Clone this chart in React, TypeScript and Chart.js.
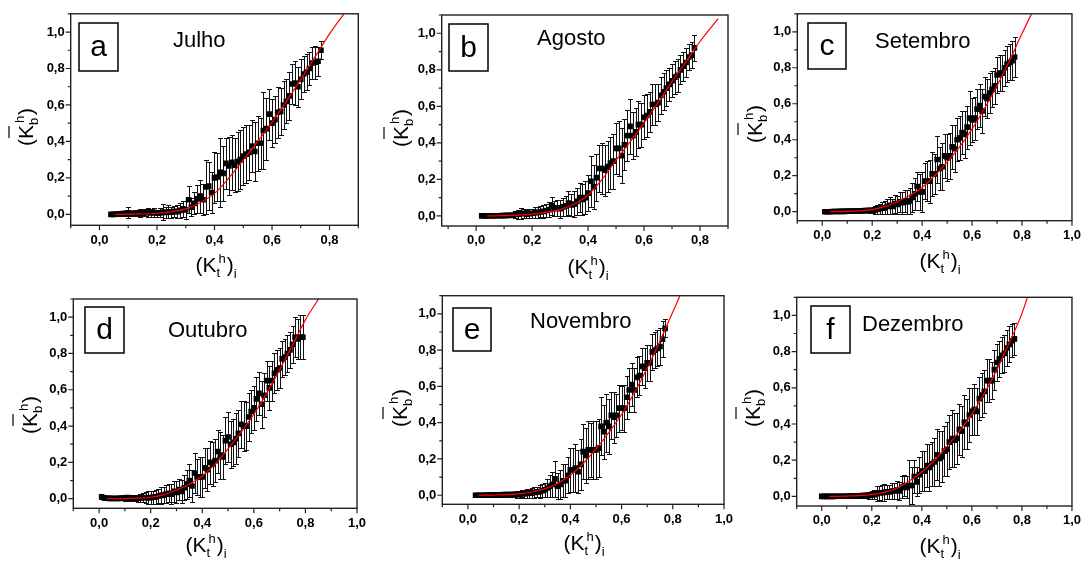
import { useEffect, useRef } from "react";
import { Chart, registerables } from "chart.js";
Chart.register(...registerables);

const W = 1088;
const H = 563;
const FONT = '"Liberation Sans", Arial, Helvetica, sans-serif';
const YW = 40;
const XH = 30;

// ---------------- Julho (a) ----------------
const julhoX = [0.04, 0.05, 0.06, 0.07, 0.08, 0.09,
  0.10, 0.11, 0.12, 0.13, 0.14, 0.15, 0.16, 0.17, 0.18, 0.19,
  0.20, 0.21, 0.22, 0.23, 0.24, 0.25, 0.26, 0.27, 0.28, 0.29,
  0.30, 0.31, 0.32, 0.33, 0.34, 0.35, 0.36, 0.37, 0.38, 0.39,
  0.40, 0.41, 0.42, 0.43, 0.44, 0.45, 0.46, 0.47, 0.48, 0.49,
  0.50, 0.51, 0.52, 0.53, 0.54, 0.55, 0.56, 0.57, 0.58, 0.59,
  0.60, 0.61, 0.62, 0.63, 0.64, 0.65, 0.66, 0.67, 0.68, 0.69,
  0.70, 0.71, 0.72, 0.73, 0.74, 0.75, 0.76, 0.77];
const julhoY = [0.000, 0.000, 0.002, 0.003, 0.004, 0.005,
  0.008, 0.006, 0.005, 0.007, 0.008, 0.006, 0.009, 0.010, 0.008, 0.010,
  0.006, 0.008, 0.012, 0.010, 0.014, 0.012, 0.016, 0.015, 0.022, 0.030,
  0.025, 0.080, 0.040, 0.060, 0.085, 0.100, 0.080, 0.150, 0.155, 0.120,
  0.200, 0.205, 0.230, 0.225, 0.280, 0.265, 0.285, 0.270, 0.290, 0.300,
  0.320, 0.330, 0.340, 0.375, 0.345, 0.390, 0.390, 0.460, 0.470, 0.550,
  0.500, 0.520, 0.560, 0.565, 0.600, 0.620, 0.650, 0.715, 0.720, 0.700,
  0.740, 0.770, 0.780, 0.800, 0.830, 0.835, 0.840, 0.900];
const julhoErr = [0.005, 0.006, 0.008, 0.010, 0.012, 0.015,
  0.030, 0.015, 0.012, 0.018, 0.020, 0.015, 0.020, 0.025, 0.020, 0.025,
  0.020, 0.025, 0.045, 0.030, 0.035, 0.030, 0.030, 0.035, 0.040, 0.045,
  0.050, 0.075, 0.050, 0.060, 0.075, 0.090, 0.085, 0.150, 0.130, 0.110,
  0.140, 0.130, 0.190, 0.150, 0.140, 0.160, 0.150, 0.150, 0.160, 0.160,
  0.160, 0.160, 0.150, 0.140, 0.160, 0.150, 0.140, 0.210, 0.170, 0.140,
  0.130, 0.130, 0.140, 0.130, 0.130, 0.120, 0.130, 0.110, 0.120, 0.110,
  0.110, 0.100, 0.100, 0.090, 0.090, 0.090, 0.080, 0.050];
const julhoFitX = [0.055, 0.10, 0.15, 0.20, 0.25, 0.30, 0.35, 0.40, 0.45, 0.50, 0.55, 0.60, 0.65, 0.70, 0.75, 0.80, 0.85];
const julhoFitY = [0.000, 0.001, 0.002, 0.006, 0.014, 0.030, 0.064, 0.115, 0.200, 0.298, 0.400, 0.505, 0.620, 0.740, 0.865, 0.990, 1.100];

// ---------------- Agosto (b) ----------------
const agostoX = [0.02, 0.03, 0.04, 0.05, 0.06, 0.07, 0.08, 0.09,
  0.10, 0.11, 0.12, 0.13, 0.14, 0.15, 0.16, 0.17, 0.18, 0.19,
  0.20, 0.21, 0.22, 0.23, 0.24, 0.25, 0.26, 0.27, 0.28, 0.29,
  0.30, 0.31, 0.32, 0.33, 0.34, 0.35, 0.36, 0.37, 0.38, 0.39,
  0.40, 0.41, 0.42, 0.43, 0.44, 0.45, 0.46, 0.47, 0.48, 0.49,
  0.50, 0.51, 0.52, 0.53, 0.54, 0.55, 0.56, 0.57, 0.58, 0.59,
  0.60, 0.61, 0.62, 0.63, 0.64, 0.65, 0.66, 0.67, 0.68, 0.69,
  0.70, 0.71, 0.72, 0.73, 0.74, 0.75, 0.76, 0.77, 0.78];
const agostoY = [0.000, 0.000, 0.000, 0.001, 0.000, 0.001, 0.001, 0.002,
  0.002, 0.003, 0.003, 0.004, 0.008, 0.010, 0.012, 0.015, 0.010, 0.012,
  0.015, 0.018, 0.020, 0.022, 0.025, 0.030, 0.035, 0.055, 0.040, 0.045,
  0.040, 0.050, 0.055, 0.070, 0.060, 0.065, 0.080, 0.100, 0.090, 0.100,
  0.125, 0.190, 0.160, 0.210, 0.260, 0.260, 0.250, 0.270, 0.290, 0.300,
  0.370, 0.370, 0.330, 0.390, 0.440, 0.490, 0.440, 0.460, 0.500, 0.500,
  0.540, 0.550, 0.570, 0.610, 0.610, 0.620, 0.660, 0.680, 0.700, 0.720,
  0.740, 0.760, 0.770, 0.800, 0.820, 0.840, 0.870, 0.880, 0.920];
const agostoErr = [0.005, 0.005, 0.005, 0.006, 0.006, 0.007, 0.008, 0.008,
  0.010, 0.010, 0.010, 0.012, 0.020, 0.025, 0.030, 0.025, 0.020, 0.025,
  0.025, 0.030, 0.030, 0.030, 0.035, 0.035, 0.040, 0.050, 0.040, 0.045,
  0.050, 0.050, 0.055, 0.065, 0.060, 0.070, 0.075, 0.080, 0.085, 0.090,
  0.100, 0.140, 0.120, 0.130, 0.130, 0.140, 0.140, 0.140, 0.140, 0.150,
  0.140, 0.150, 0.150, 0.140, 0.140, 0.150, 0.130, 0.130, 0.130, 0.120,
  0.120, 0.120, 0.110, 0.110, 0.110, 0.100, 0.100, 0.100, 0.100, 0.090,
  0.090, 0.090, 0.090, 0.080, 0.080, 0.080, 0.070, 0.070, 0.070];
const agostoFitX = [0.04, 0.10, 0.15, 0.20, 0.25, 0.30, 0.35, 0.40, 0.45, 0.50, 0.55, 0.60, 0.65, 0.70, 0.75, 0.80, 0.865];
const agostoFitY = [0.000, 0.002, 0.005, 0.010, 0.020, 0.035, 0.065, 0.115, 0.200, 0.305, 0.405, 0.510, 0.620, 0.735, 0.845, 0.955, 1.080];

// ---------------- Setembro (c) ----------------
const setembroX = [0.01, 0.02, 0.03, 0.04, 0.05, 0.06, 0.07, 0.08, 0.09,
  0.10, 0.11, 0.12, 0.13, 0.14, 0.15, 0.16, 0.17, 0.18, 0.19,
  0.20, 0.21, 0.22, 0.23, 0.24, 0.25, 0.26, 0.27, 0.28, 0.29,
  0.30, 0.31, 0.32, 0.33, 0.34, 0.35, 0.36, 0.37, 0.38, 0.39,
  0.40, 0.41, 0.42, 0.43, 0.44, 0.45, 0.46, 0.47, 0.48, 0.49,
  0.50, 0.51, 0.52, 0.53, 0.54, 0.55, 0.56, 0.57, 0.58, 0.59,
  0.60, 0.61, 0.62, 0.63, 0.64, 0.65, 0.66, 0.67, 0.68, 0.69,
  0.70, 0.71, 0.72, 0.73, 0.74, 0.75, 0.76, 0.77];
const setembroY = [0.000, 0.000, 0.000, 0.001, 0.001, 0.001, 0.002, 0.002, 0.002,
  0.003, 0.003, 0.003, 0.004, 0.004, 0.005, 0.005, 0.006, 0.006, 0.007,
  0.008, 0.010, 0.012, 0.015, 0.020, 0.022, 0.030, 0.035, 0.030, 0.045,
  0.040, 0.055, 0.050, 0.060, 0.055, 0.060, 0.080, 0.100, 0.140, 0.110,
  0.110, 0.170, 0.170, 0.170, 0.210, 0.210, 0.290, 0.240, 0.250, 0.310,
  0.300, 0.310, 0.360, 0.350, 0.400, 0.410, 0.440, 0.430, 0.470, 0.520,
  0.510, 0.520, 0.570, 0.590, 0.560, 0.640, 0.630, 0.660, 0.680, 0.700,
  0.760, 0.770, 0.770, 0.800, 0.820, 0.830, 0.840, 0.860];
const setembroErr = [0.003, 0.003, 0.004, 0.004, 0.004, 0.005, 0.005, 0.005, 0.006,
  0.006, 0.006, 0.007, 0.007, 0.008, 0.008, 0.009, 0.010, 0.010, 0.012,
  0.015, 0.020, 0.025, 0.030, 0.035, 0.035, 0.040, 0.045, 0.040, 0.050,
  0.050, 0.055, 0.060, 0.060, 0.065, 0.070, 0.080, 0.090, 0.080, 0.100,
  0.110, 0.100, 0.110, 0.120, 0.120, 0.110, 0.130, 0.120, 0.130, 0.120,
  0.130, 0.130, 0.120, 0.130, 0.120, 0.120, 0.120, 0.130, 0.120, 0.150,
  0.120, 0.120, 0.110, 0.120, 0.120, 0.110, 0.110, 0.110, 0.100, 0.100,
  0.100, 0.100, 0.100, 0.100, 0.100, 0.100, 0.110, 0.110];
const setembroFitX = [0.03, 0.10, 0.15, 0.20, 0.25, 0.30, 0.35, 0.40, 0.45, 0.50, 0.55, 0.60, 0.65, 0.70, 0.75, 0.80, 0.838];
const setembroFitY = [0.000, 0.002, 0.005, 0.012, 0.028, 0.055, 0.090, 0.135, 0.200, 0.275, 0.360, 0.460, 0.575, 0.700, 0.840, 0.990, 1.100];

// ---------------- Outubro (d) ----------------
const outubroX = [0.01, 0.02, 0.03, 0.04, 0.05, 0.06, 0.07, 0.08, 0.09,
  0.10, 0.11, 0.12, 0.13, 0.14, 0.15, 0.16, 0.17, 0.18, 0.19,
  0.20, 0.21, 0.22, 0.23, 0.24, 0.25, 0.26, 0.27, 0.28, 0.29,
  0.30, 0.31, 0.32, 0.33, 0.34, 0.35, 0.36, 0.37, 0.38, 0.39,
  0.40, 0.41, 0.42, 0.43, 0.44, 0.45, 0.46, 0.47, 0.48, 0.49,
  0.50, 0.51, 0.52, 0.53, 0.54, 0.55, 0.56, 0.57, 0.58, 0.59,
  0.60, 0.61, 0.62, 0.63, 0.64, 0.65, 0.66, 0.67, 0.68, 0.69,
  0.70, 0.71, 0.72, 0.73, 0.74, 0.75, 0.76, 0.77, 0.78, 0.79];
const outubroY = [0.010, 0.005, 0.003, 0.002, 0.002, 0.001, 0.002, 0.002, 0.003,
  0.004, 0.006, 0.004, 0.003, 0.004, 0.003, 0.004, 0.005, 0.006, 0.005,
  0.006, 0.008, 0.010, 0.015, 0.018, 0.020, 0.025, 0.030, 0.025, 0.040,
  0.035, 0.050, 0.040, 0.060, 0.080, 0.100, 0.070, 0.140, 0.120, 0.120,
  0.120, 0.170, 0.160, 0.200, 0.190, 0.210, 0.260, 0.240, 0.230, 0.320,
  0.340, 0.300, 0.310, 0.330, 0.360, 0.410, 0.400, 0.400, 0.450, 0.480,
  0.500, 0.550, 0.580, 0.520, 0.570, 0.650, 0.610, 0.650, 0.690, 0.710,
  0.720, 0.770, 0.780, 0.800, 0.820, 0.850, 0.890, 0.880, 0.890, 0.890];
const outubroErr = [0.010, 0.010, 0.008, 0.008, 0.008, 0.010, 0.010, 0.012, 0.012,
  0.015, 0.015, 0.015, 0.015, 0.018, 0.020, 0.020, 0.025, 0.030, 0.035,
  0.035, 0.035, 0.040, 0.040, 0.045, 0.045, 0.050, 0.050, 0.055, 0.060,
  0.060, 0.060, 0.065, 0.070, 0.080, 0.090, 0.090, 0.110, 0.100, 0.110,
  0.110, 0.110, 0.120, 0.120, 0.120, 0.120, 0.120, 0.130, 0.120, 0.130,
  0.140, 0.130, 0.130, 0.140, 0.130, 0.130, 0.140, 0.130, 0.130, 0.120,
  0.120, 0.120, 0.120, 0.130, 0.120, 0.110, 0.120, 0.110, 0.110, 0.110,
  0.110, 0.100, 0.100, 0.100, 0.100, 0.100, 0.110, 0.110, 0.120, 0.120];
const outubroFitX = [0.03, 0.10, 0.15, 0.20, 0.25, 0.30, 0.35, 0.40, 0.45, 0.50, 0.55, 0.60, 0.65, 0.70, 0.75, 0.80, 0.851];
const outubroFitY = [0.000, 0.001, 0.003, 0.008, 0.022, 0.048, 0.080, 0.125, 0.190, 0.275, 0.365, 0.465, 0.580, 0.710, 0.845, 0.985, 1.100];

// ---------------- Novembro (e) ----------------
const novembroX = [0.03, 0.04, 0.05, 0.06, 0.07, 0.08, 0.09,
  0.10, 0.11, 0.12, 0.13, 0.14, 0.15, 0.16, 0.17, 0.18, 0.19,
  0.20, 0.21, 0.22, 0.23, 0.24, 0.25, 0.26, 0.27, 0.28, 0.29,
  0.30, 0.31, 0.32, 0.33, 0.34, 0.35, 0.36, 0.37, 0.38, 0.39,
  0.40, 0.41, 0.42, 0.43, 0.44, 0.45, 0.46, 0.47, 0.48, 0.49,
  0.50, 0.51, 0.52, 0.53, 0.54, 0.55, 0.56, 0.57, 0.58, 0.59,
  0.60, 0.61, 0.62, 0.63, 0.64, 0.65, 0.66, 0.67, 0.68, 0.69,
  0.70, 0.71, 0.72, 0.73, 0.74, 0.75, 0.76, 0.77];
const novembroY = [0.000, 0.000, 0.000, 0.000, 0.001, 0.001, 0.001,
  0.001, 0.002, 0.002, 0.002, 0.003, 0.003, 0.004, 0.004, 0.005, 0.005,
  0.006, 0.008, 0.008, 0.010, 0.012, 0.012, 0.015, 0.018, 0.020, 0.025,
  0.030, 0.040, 0.050, 0.060, 0.090, 0.050, 0.060, 0.080, 0.080, 0.110,
  0.140, 0.140, 0.150, 0.130, 0.170, 0.240, 0.220, 0.250, 0.250, 0.250,
  0.250, 0.260, 0.380, 0.350, 0.400, 0.380, 0.440, 0.430, 0.440, 0.480,
  0.480, 0.480, 0.540, 0.580, 0.610, 0.580, 0.650, 0.660, 0.710, 0.700,
  0.730, 0.730, 0.790, 0.800, 0.810, 0.820, 0.860, 0.920];
const novembroErr = [0.004, 0.004, 0.005, 0.005, 0.006, 0.006, 0.007,
  0.008, 0.008, 0.009, 0.010, 0.010, 0.012, 0.012, 0.015, 0.015, 0.018,
  0.020, 0.020, 0.022, 0.025, 0.025, 0.028, 0.030, 0.030, 0.035, 0.035,
  0.040, 0.050, 0.060, 0.070, 0.100, 0.070, 0.080, 0.090, 0.090, 0.100,
  0.120, 0.120, 0.130, 0.120, 0.140, 0.150, 0.150, 0.160, 0.150, 0.160,
  0.160, 0.160, 0.160, 0.150, 0.160, 0.150, 0.130, 0.140, 0.120, 0.130,
  0.120, 0.130, 0.120, 0.120, 0.120, 0.120, 0.110, 0.110, 0.100, 0.110,
  0.100, 0.100, 0.100, 0.100, 0.100, 0.100, 0.100, 0.050];
const novembroFitX = [0.04, 0.10, 0.15, 0.20, 0.25, 0.30, 0.35, 0.40, 0.45, 0.50, 0.55, 0.60, 0.65, 0.70, 0.75, 0.80, 0.828];
const novembroFitY = [0.000, 0.001, 0.003, 0.008, 0.018, 0.035, 0.065, 0.110, 0.175, 0.255, 0.345, 0.445, 0.565, 0.700, 0.850, 1.010, 1.100];

// ---------------- Dezembro (f) ----------------
const dezembroX = [0.00, 0.01, 0.02, 0.03, 0.04, 0.05, 0.06, 0.07, 0.08, 0.09,
  0.10, 0.11, 0.12, 0.13, 0.14, 0.15, 0.16, 0.17, 0.18, 0.19,
  0.20, 0.21, 0.22, 0.23, 0.24, 0.25, 0.26, 0.27, 0.28, 0.29,
  0.30, 0.31, 0.32, 0.33, 0.34, 0.35, 0.36, 0.37, 0.38, 0.39,
  0.40, 0.41, 0.42, 0.43, 0.44, 0.45, 0.46, 0.47, 0.48, 0.49,
  0.50, 0.51, 0.52, 0.53, 0.54, 0.55, 0.56, 0.57, 0.58, 0.59,
  0.60, 0.61, 0.62, 0.63, 0.64, 0.65, 0.66, 0.67, 0.68, 0.69,
  0.70, 0.71, 0.72, 0.73, 0.74, 0.75, 0.76, 0.77];
const dezembroY = [0.000, 0.000, 0.000, 0.000, 0.000, 0.000, 0.001, 0.001, 0.001, 0.001,
  0.001, 0.002, 0.002, 0.002, 0.003, 0.003, 0.004, 0.005, 0.006, 0.006,
  0.008, 0.010, 0.015, 0.020, 0.020, 0.022, 0.025, 0.025, 0.030, 0.030,
  0.035, 0.030, 0.050, 0.060, 0.050, 0.060, 0.060, 0.110, 0.080, 0.120,
  0.140, 0.140, 0.170, 0.160, 0.180, 0.190, 0.230, 0.210, 0.220, 0.250,
  0.260, 0.300, 0.320, 0.310, 0.320, 0.370, 0.360, 0.410, 0.400, 0.450,
  0.470, 0.480, 0.470, 0.540, 0.560, 0.580, 0.640, 0.640, 0.640, 0.700,
  0.740, 0.760, 0.780, 0.790, 0.820, 0.840, 0.860, 0.870];
const dezembroErr = [0.003, 0.003, 0.003, 0.003, 0.004, 0.004, 0.004, 0.005, 0.005, 0.006,
  0.006, 0.007, 0.007, 0.008, 0.008, 0.010, 0.012, 0.015, 0.015, 0.018,
  0.020, 0.025, 0.040, 0.040, 0.045, 0.045, 0.040, 0.040, 0.045, 0.045,
  0.050, 0.050, 0.060, 0.060, 0.060, 0.140, 0.100, 0.090, 0.080, 0.100,
  0.110, 0.110, 0.120, 0.130, 0.120, 0.130, 0.140, 0.150, 0.140, 0.140,
  0.150, 0.150, 0.160, 0.150, 0.140, 0.140, 0.140, 0.150, 0.140, 0.150,
  0.130, 0.140, 0.130, 0.120, 0.120, 0.120, 0.120, 0.120, 0.100, 0.110,
  0.100, 0.100, 0.100, 0.100, 0.100, 0.100, 0.090, 0.090];
const dezembroFitX = [0.03, 0.10, 0.15, 0.20, 0.25, 0.30, 0.35, 0.40, 0.45, 0.50, 0.55, 0.60, 0.65, 0.70, 0.75, 0.80, 0.822];
const dezembroFitY = [0.000, 0.002, 0.004, 0.010, 0.022, 0.045, 0.085, 0.135, 0.200, 0.275, 0.360, 0.455, 0.570, 0.700, 0.850, 1.010, 1.100];

type Panel = {
  letter: string;
  month: string;
  xs: number[];
  ys: number[];
  es: number[];
  fx: number[];
  fy: number[];
  area: { l: number; t: number; r: number; b: number };
  xMin: number;
  xMax: number;
  yMin: number;
  yMax: number;
  box: [number, number, number, number];
  monthAt: [number, number];
  yTitleAt: [number, number];
  xTitleAt: [number, number];
};

const PANELS: Panel[] = [
  {
    letter: "a", month: "Julho", xs: julhoX, ys: julhoY, es: julhoErr, fx: julhoFitX, fy: julhoFitY,
    area: { l: 70.7, t: 13.3, r: 358.3, b: 225.3 }, xMin: -0.1, xMax: 0.9, yMin: -0.06, yMax: 1.1,
    box: [79, 23, 39, 48], monthAt: [173, 47], yTitleAt: [33, 127], xTitleAt: [216, 272],
  },
  {
    letter: "b", month: "Agosto", xs: agostoX, ys: agostoY, es: agostoErr, fx: agostoFitX, fy: agostoFitY,
    area: { l: 441.7, t: 15, r: 728, b: 226 }, xMin: -0.123, xMax: 0.9, yMin: -0.055, yMax: 1.1,
    box: [449, 24, 39, 47], monthAt: [537, 45], yTitleAt: [408, 128], xTitleAt: [588, 274],
  },
  {
    letter: "c", month: "Setembro", xs: setembroX, ys: setembroY, es: setembroErr, fx: setembroFitX, fy: setembroFitY,
    area: { l: 797.3, t: 12.7, r: 1080, b: 220.7 }, xMin: -0.1, xMax: 1.0, yMin: -0.05, yMax: 1.1,
    box: [808, 23, 38, 46], monthAt: [875, 48], yTitleAt: [762, 124], xTitleAt: [940, 268],
  },
  {
    letter: "d", month: "Outubro", xs: outubroX, ys: outubroY, es: outubroErr, fx: outubroFitX, fy: outubroFitY,
    area: { l: 73.3, t: 299, r: 357, b: 508.3 }, xMin: -0.1, xMax: 1.0, yMin: -0.053, yMax: 1.1,
    box: [85, 307, 39, 46], monthAt: [168, 337], yTitleAt: [37, 415], xTitleAt: [206, 552],
  },
  {
    letter: "e", month: "Novembro", xs: novembroX, ys: novembroY, es: novembroErr, fx: novembroFitX, fy: novembroFitY,
    area: { l: 442.3, t: 295.7, r: 724, b: 504.3 }, xMin: -0.1, xMax: 1.0, yMin: -0.05, yMax: 1.1,
    box: [453, 308, 38, 43], monthAt: [530, 328], yTitleAt: [407, 408], xTitleAt: [584, 550],
  },
  {
    letter: "f", month: "Dezembro", xs: dezembroX, ys: dezembroY, es: dezembroErr, fx: dezembroFitX, fy: dezembroFitY,
    area: { l: 796.7, t: 297.3, r: 1079, b: 506 }, xMin: -0.1, xMax: 1.0, yMin: -0.053, yMax: 1.1,
    box: [811, 306, 39, 47], monthAt: [862, 331], yTitleAt: [760, 408], xTitleAt: [940, 553],
  },
];

function makeFmt(min: number, max: number) {
  return (v: number) => {
    if (v < min - 1e-9 || v > max + 1e-9) return "";
    const k = Math.round(v * 10);
    if (k < 0 || k % 2 !== 0) return "";
    return (k / 10).toFixed(1).replace(".", ",");
  };
}

function drawKLabel(
  ctx: CanvasRenderingContext2D,
  cx: number,
  by: number,
  sub: string,
  sup: string,
  tailSub: string | null,
  overline: boolean
) {
  const big = `21px ${FONT}`;
  const small = `13px ${FONT}`;
  ctx.font = big;
  const wL = ctx.measureText("(").width;
  const wK = ctx.measureText("K").width;
  const wR = ctx.measureText(")").width;
  ctx.font = small;
  const wSub = ctx.measureText(sub).width;
  const wSup = ctx.measureText(sup).width;
  const wTail = tailSub ? ctx.measureText(tailSub).width : 0;
  const wS = Math.max(wSub, wSup + 2) + 1;
  const total = wL + wK + wS + wR + wTail;
  let x = cx - total / 2;
  ctx.textAlign = "left";
  ctx.textBaseline = "alphabetic";
  ctx.fillStyle = "#000";
  ctx.font = big;
  ctx.fillText("(", x, by);
  x += wL;
  const kx = x;
  ctx.fillText("K", x, by);
  x += wK;
  ctx.font = small;
  ctx.fillText(sub, x, by + 5);
  ctx.fillText(sup, x + 2, by - 9);
  x += wS;
  ctx.font = big;
  ctx.fillText(")", x, by);
  x += wR;
  if (tailSub) {
    ctx.font = small;
    ctx.fillText(tailSub, x, by + 6);
  }
  if (overline) {
    ctx.strokeStyle = "#000";
    ctx.lineWidth = 1.2;
    ctx.beginPath();
    ctx.moveTo(kx + 1, by - 24);
    ctx.lineTo(kx + wK - 1, by - 24);
    ctx.stroke();
  }
}

function makeDecor(p: Panel) {
  return {
    id: "decor_" + p.letter,
    beforeDatasetsDraw(chart: any) {
      const ctx: CanvasRenderingContext2D = chart.ctx;
      const ca = chart.chartArea;
      const sx = chart.scales.x;
      const sy = chart.scales.y;
      ctx.save();
      ctx.beginPath();
      ctx.rect(ca.left, ca.top, ca.right - ca.left, ca.bottom - ca.top);
      ctx.clip();
      ctx.strokeStyle = "#111";
      ctx.lineWidth = 1;
      ctx.beginPath();
      for (let i = 0; i < p.xs.length; i++) {
        const px = Math.round(sx.getPixelForValue(p.xs[i])) + 0.5;
        const t = Math.round(sy.getPixelForValue(p.ys[i] + p.es[i])) + 0.5;
        const b = Math.round(sy.getPixelForValue(p.ys[i] - p.es[i])) + 0.5;
        ctx.moveTo(px, t);
        ctx.lineTo(px, b);
        ctx.moveTo(px - 2.5, t);
        ctx.lineTo(px + 2.5, t);
        ctx.moveTo(px - 2.5, b);
        ctx.lineTo(px + 2.5, b);
      }
      ctx.stroke();
      ctx.restore();
    },
    afterDraw(chart: any) {
      const ctx: CanvasRenderingContext2D = chart.ctx;
      const ca = chart.chartArea;
      const sx = chart.scales.x;
      const sy = chart.scales.y;
      ctx.save();
      // frame
      ctx.strokeStyle = "#222";
      ctx.lineWidth = 1.4;
      ctx.strokeRect(ca.left, ca.top, ca.right - ca.left, ca.bottom - ca.top);
      // ticks
      ctx.lineWidth = 1.2;
      ctx.beginPath();
      for (const t of sx.ticks) {
        const v = t.value;
        if (v < sx.min - 1e-9 || v > sx.max + 1e-9) continue;
        const k = Math.round(v * 10);
        const len = k % 2 === 0 ? 5 : 3;
        const px = sx.getPixelForValue(v);
        ctx.moveTo(px, ca.bottom);
        ctx.lineTo(px, ca.bottom + len);
      }
      for (const t of sy.ticks) {
        const v = t.value;
        if (v < sy.min - 1e-9 || v > sy.max + 1e-9) continue;
        const k = Math.round(v * 10);
        const len = k % 2 === 0 ? 5 : 3;
        const py = sy.getPixelForValue(v);
        ctx.moveTo(ca.left - len, py);
        ctx.lineTo(ca.left, py);
      }
      ctx.stroke();
      // letter box
      const [bx, by, bw, bh] = p.box;
      ctx.strokeStyle = "#000";
      ctx.lineWidth = 1.5;
      ctx.strokeRect(bx, by, bw, bh);
      ctx.fillStyle = "#000";
      ctx.font = `30px ${FONT}`;
      ctx.textAlign = "center";
      ctx.textBaseline = "alphabetic";
      ctx.fillText(p.letter, bx + bw / 2, by + bh / 2 + 9);
      // month
      ctx.font = `22px ${FONT}`;
      ctx.textAlign = "left";
      ctx.fillText(p.month, p.monthAt[0], p.monthAt[1]);
      // x title
      drawKLabel(ctx, p.xTitleAt[0], p.xTitleAt[1], "t", "h", "i", false);
      // y title (rotated)
      ctx.save();
      ctx.translate(p.yTitleAt[0], p.yTitleAt[1]);
      ctx.rotate(-Math.PI / 2);
      drawKLabel(ctx, 0, 0, "b", "h", null, true);
      ctx.restore();
      ctx.restore();
    },
  };
}

function PanelChart({ p }: { p: Panel }) {
  const ref = useRef<HTMLCanvasElement | null>(null);
  useEffect(() => {
    if (!ref.current) return;
    const a = p.area;
    const fmtX = makeFmt(p.xMin, p.xMax);
    const fmtY = makeFmt(0, 1.0);
    const tickFont = { family: FONT, size: 13, weight: "bold" as const };
    const chart = new Chart(ref.current, {
      type: "scatter",
      data: {
        datasets: [
          {
            label: "fit",
            data: p.fx.map((x, i) => ({ x, y: p.fy[i] })),
            showLine: true,
            borderColor: "#ff0000",
            borderWidth: 1.2,
            pointRadius: 0,
            cubicInterpolationMode: "monotone",
            fill: false,
            order: 0,
          } as any,
          {
            label: "obs",
            data: p.xs.map((x, i) => ({ x, y: p.ys[i] })),
            pointStyle: "rect",
            pointRadius: 4,
            backgroundColor: "#000",
            borderColor: "#000",
            borderWidth: 0,
            order: 1,
          } as any,
        ],
      },
      options: {
        responsive: false,
        animation: false,
        events: [],
        layout: {
          padding: { left: a.l - YW, top: a.t, right: W - a.r, bottom: H - a.b - XH },
        },
        plugins: {
          legend: { display: false },
          tooltip: { enabled: false },
          title: { display: false },
        },
        scales: {
          x: {
            type: "linear",
            min: p.xMin,
            max: p.xMax,
            afterFit: (s: any) => { s.height = XH; },
            grid: { display: false, drawTicks: false },
            border: { display: false },
            ticks: {
              stepSize: 0.1,
              includeBounds: false,
              autoSkip: false,
              maxRotation: 0,
              minRotation: 0,
              padding: 7,
              color: "#000",
              font: tickFont,
              callback: (v: any) => fmtX(Number(v)),
            },
          },
          y: {
            type: "linear",
            min: p.yMin,
            max: p.yMax,
            afterFit: (s: any) => { s.width = YW; },
            grid: { display: false, drawTicks: false },
            border: { display: false },
            ticks: {
              stepSize: 0.1,
              includeBounds: false,
              autoSkip: false,
              padding: 6,
              color: "#000",
              font: tickFont,
              callback: (v: any) => fmtY(Number(v)),
            },
          },
        },
      } as any,
      plugins: [makeDecor(p)],
    });
    return () => chart.destroy();
  }, [p]);
  return (
    <canvas
      ref={ref}
      width={W}
      height={H}
      style={{ position: "absolute", left: 0, top: 0, width: W, height: H }}
    />
  );
}

export default function App() {
  return (
    <div
      style={{
        position: "fixed",
        left: 0,
        top: 0,
        width: W,
        height: H,
        background: "#fff",
        overflow: "hidden",
      }}
    >
      {PANELS.map((p) => (
        <PanelChart key={p.letter} p={p} />
      ))}
    </div>
  );
}
